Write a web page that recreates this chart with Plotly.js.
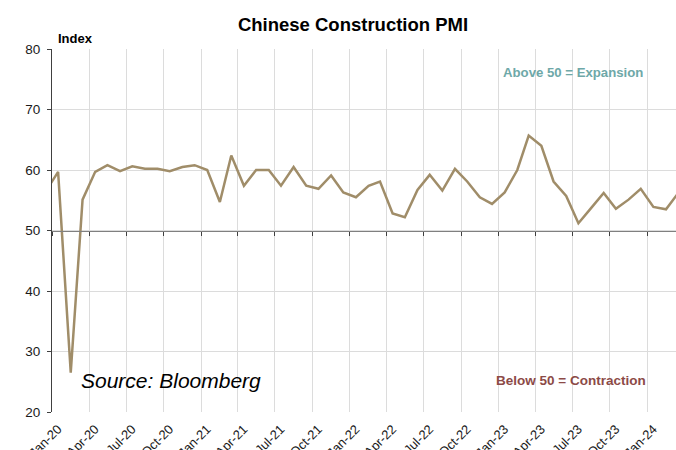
<!DOCTYPE html>
<html>
<head>
<meta charset="utf-8">
<script src="https://cdn.plot.ly/plotly-3.0.1.min.js"></script>
<style>
  html, body { margin: 0; padding: 0; background: #fff; }
  #chart { width: 676px; height: 450px; }
</style>
</head>
<body>
<div id="chart"></div>
<script>
// Monthly construction PMI, Dec-19 .. Mar-24 (Dec-19 sits just left of the axis and is clipped)
const months = [
  '2019-12',
  '2020-01', '2020-02', '2020-03', '2020-04', '2020-05', '2020-06',
  '2020-07', '2020-08', '2020-09', '2020-10', '2020-11', '2020-12',
  '2021-01', '2021-02', '2021-03', '2021-04', '2021-05', '2021-06',
  '2021-07', '2021-08', '2021-09', '2021-10', '2021-11', '2021-12',
  '2022-01', '2022-02', '2022-03', '2022-04', '2022-05', '2022-06',
  '2022-07', '2022-08', '2022-09', '2022-10', '2022-11', '2022-12',
  '2023-01', '2023-02', '2023-03', '2023-04', '2023-05', '2023-06',
  '2023-07', '2023-08', '2023-09', '2023-10', '2023-11', '2023-12',
  '2024-01', '2024-02', '2024-03'
];
const pmi = [
  56.4,
  59.7, 26.5, 55.1, 59.7, 60.8, 59.8,
  60.6, 60.2, 60.2, 59.8, 60.5, 60.8,
  60.0, 54.7, 62.4, 57.4, 60.0, 60.0,
  57.4, 60.5, 57.4, 56.9, 59.1, 56.3,
  55.5, 57.4, 58.1, 52.8, 52.2, 56.7,
  59.2, 56.6, 60.2, 58.1, 55.5, 54.4,
  56.3, 60.0, 65.7, 64.0, 58.1, 55.7,
  51.2, 53.7, 56.2, 53.6, 55.1, 56.9,
  53.9, 53.5, 56.1
];

const font = 'Liberation Sans, Arial, sans-serif';
// points sit mid-month, gridlines on the first of the month
const xDates = months.map(m => m + '-16');
const xRange = ['2020-01-01', '2024-03-11 12:00'];

const trace = {
  x: xDates,
  y: pmi,
  type: 'scatter',
  mode: 'lines',
  line: { color: '#a08d69', width: 2.5 },
  hoverinfo: 'x+y'
};

// invisible copy so the 50-line axis (x2) gets drawn
const axisTrace = {
  x: xDates,
  y: pmi,
  xaxis: 'x2',
  type: 'scatter',
  mode: 'lines',
  line: { color: 'rgba(0,0,0,0)', width: 0 },
  hoverinfo: 'skip'
};

const layout = {
  width: 676,
  height: 450,
  margin: { l: 52, r: 0, t: 49, b: 38 },
  paper_bgcolor: '#fff',
  plot_bgcolor: '#fff',
  showlegend: false,
  font: { family: font, size: 13, color: '#1a1a1a' },
  title: {
    text: '<b>Chinese Construction PMI</b>',
    font: { family: font, size: 18.5, color: '#000' },
    x: 353 / 676, xref: 'container', xanchor: 'center',
    y: 1 - 25 / 450, yref: 'container', yanchor: 'middle'
  },
  xaxis: {
    type: 'date',
    range: xRange,
    tick0: '2020-01-01',
    dtick: 'M3',
    tickformat: '%b-%y',
    tickangle: -45,
    tickfont: { family: font, size: 13, color: '#1a1a1a' },
    showgrid: true,
    gridcolor: '#dcdcdc',
    gridwidth: 1,
    showline: false,
    zeroline: false,
    ticks: '',
    ticklabelstandoff: 6,
    ticklabelshift: 6
  },
  // second axis used only to draw the 50 line with its tick marks
  xaxis2: {
    type: 'date',
    overlaying: 'x',
    matches: 'x',
    anchor: 'free',
    position: 0.5,
    side: 'bottom',
    range: xRange,
    tick0: '2020-01-01',
    dtick: 'M3',
    showticklabels: false,
    showgrid: false,
    zeroline: false,
    showline: true,
    linecolor: '#808080',
    linewidth: 1.5,
    ticks: 'outside',
    ticklen: 4,
    tickcolor: '#404040'
  },
  yaxis: {
    range: [20, 80],
    dtick: 10,
    tickfont: { family: font, size: 13.5, color: '#1a1a1a' },
    showgrid: true,
    gridcolor: '#dcdcdc',
    showline: true,
    linecolor: '#404040',
    linewidth: 1,
    zeroline: false,
    ticks: 'outside',
    ticklen: 4,
    tickcolor: '#404040',
    ticklabelstandoff: 4
  },
  annotations: [
    {
      text: '<b>Index</b>', xref: 'paper', yref: 'paper',
      x: 0.006, y: 1.03, xanchor: 'left', yanchor: 'middle', showarrow: false,
      font: { family: font, size: 13, color: '#000' }
    },
    {
      text: '<i>Source: Bloomberg</i>', xref: 'paper', yref: 'paper',
      x: 0.043, y: 0.0854, xanchor: 'left', yanchor: 'middle', showarrow: false,
      font: { family: font, size: 21, color: '#000' }
    },
    {
      text: '<b>Above 50 = Expansion</b>', xref: 'paper', yref: 'paper',
      x: 0.835, y: 0.934, xanchor: 'center', yanchor: 'middle', showarrow: false,
      font: { family: font, size: 13.2, color: '#6ea8a8' }
    },
    {
      text: '<b>Below 50 = Contraction</b>', xref: 'paper', yref: 'paper',
      x: 0.832, y: 0.0854, xanchor: 'center', yanchor: 'middle', showarrow: false,
      font: { family: font, size: 13.5, color: '#8c4a47' }
    }
  ]
};

Plotly.newPlot('chart', [axisTrace, trace], layout, { displayModeBar: false, staticPlot: true });
</script>
</body>
</html>
